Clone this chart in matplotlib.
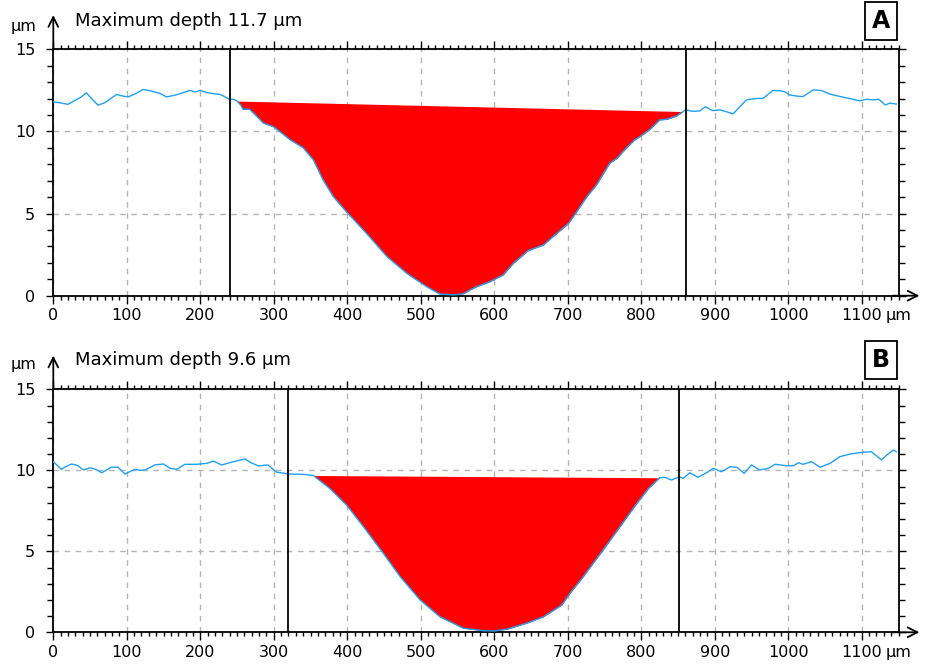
import numpy as np
import matplotlib
matplotlib.use("Agg")
import matplotlib.pyplot as plt
from matplotlib.ticker import MultipleLocator

# Surface profile A (x in µm, height in µm)
profile_a_x = [0, 8, 20, 30, 38, 45, 52, 61, 70, 78, 86, 95, 102, 112, 122, 130, 138, 146, 154,
               165, 176, 186, 193, 200, 210, 218, 227, 234, 240, 245, 250, 255, 258, 267, 275,
               286, 299, 308, 322, 340, 354, 367, 381, 399, 426, 454, 481, 508, 526, 545, 558,
               567, 576, 594, 612, 626, 646, 667, 680, 701, 712, 726, 739, 757, 767, 780, 791,
               798, 812, 825, 835, 848, 859, 862, 870, 880, 887, 897, 907, 916, 925, 934, 943,
               955, 966, 979, 988, 995, 1002, 1012, 1020, 1034, 1045, 1057, 1071, 1084, 1097,
               1107, 1115, 1123, 1132, 1138, 1147]
profile_a_y = [11.8, 11.75, 11.65, 11.9, 12.1, 12.35, 12.0, 11.6, 11.75, 12.0, 12.25, 12.15, 12.1,
               12.3, 12.55, 12.5, 12.4, 12.3, 12.1, 12.2, 12.35, 12.5, 12.4, 12.5, 12.35, 12.3,
               12.25, 12.1, 11.95, 11.96, 11.85, 11.6, 11.35, 11.35, 11.0, 10.5, 10.3, 10.0, 9.5,
               9.0, 8.26, 7.05, 6.03, 5.1, 3.8, 2.38, 1.36, 0.55, 0.1, 0.05, 0.12, 0.35, 0.55,
               0.85, 1.26, 1.97, 2.74, 3.09, 3.6, 4.4, 5.1, 6.03, 6.74, 8.06, 8.37, 9.0, 9.48,
               9.68, 10.13, 10.7, 10.74, 10.94, 11.27, 11.31, 11.22, 11.25, 11.5, 11.27, 11.31,
               11.2, 11.07, 11.5, 11.92, 12.0, 12.02, 12.49, 12.48, 12.42, 12.22, 12.15, 12.12,
               12.53, 12.49, 12.27, 12.12, 12.0, 11.86, 11.96, 11.92, 11.96, 11.61, 11.72, 11.67]

# Surface profile B
profile_b_x = [0, 11, 18, 25, 33, 41, 50, 58, 66, 79, 88, 97.5, 111, 118, 125, 138, 150, 159, 168,
               179, 195, 209, 218, 229, 245, 261, 268, 279, 292, 304, 322, 340, 354, 356, 376,
               399, 422, 449, 472, 499, 526, 558, 585, 600, 617, 644, 667, 692, 703, 721, 748,
               771, 794, 810, 825, 832, 841, 852, 857, 866, 877, 889, 898, 909, 921, 930, 940,
               950, 961, 973, 982, 998, 1007, 1014, 1020, 1032, 1043, 1057, 1070, 1084, 1097,
               1113, 1127, 1134, 1143, 1147]
profile_b_y = [10.53, 10.06, 10.25, 10.39, 10.3, 10.02, 10.16, 10.05, 9.85, 10.19, 10.19, 9.77,
               10.06, 10.0, 10.02, 10.33, 10.39, 10.12, 10.06, 10.37, 10.37, 10.43, 10.57, 10.33,
               10.53, 10.7, 10.49, 10.27, 10.33, 9.88, 9.77, 9.75, 9.68, 9.6, 8.89, 7.86, 6.52,
               4.88, 3.43, 2.0, 0.96, 0.25, 0.1, 0.08, 0.19, 0.56, 0.96, 1.69, 2.41, 3.43, 5.08,
               6.52, 7.96, 8.89, 9.54, 9.57, 9.4, 9.6, 9.5, 9.85, 9.57, 9.85, 10.12, 9.91, 10.22,
               10.19, 9.81, 10.33, 10.02, 10.12, 10.37, 10.28, 10.28, 10.47, 10.37, 10.53, 10.19,
               10.43, 10.84, 11.0, 11.09, 11.15, 10.64, 10.94, 11.25, 11.15]

# Groove limits (start/end of the filled region) and cursor positions
groove_a = (250, 857)
groove_b = (354, 825)
cursors_a = (240, 861)
cursors_b = (320, 851)
max_depth_a = 11.7
max_depth_b = 9.6
panel_labels = ["A", "B"]

x_ticks = [0, 100, 200, 300, 400, 500, 600, 700, 800, 900, 1000, 1100]
y_ticks = [0, 5, 10, 15]

W, H = 925, 664
fig = plt.figure(figsize=(W / 100, H / 100), dpi=100)
plt.rcParams["font.family"] = ["DejaVu Sans"]

LINE_BLUE = "#1ea0f5"
RED = "#ff0000"
TICK_FS = 11.5


def fx(px):
    return px / W


def fy(py):
    return 1 - py / H


def draw_panel(ax, xs, ys, groove, cursors):
    xs = np.asarray(xs, float)
    ys = np.asarray(ys, float)
    x0, x1 = groove
    y0 = np.interp(x0, xs, ys)
    y1 = np.interp(x1, xs, ys)
    inner = (xs > x0) & (xs < x1)
    gx = np.concatenate([[x0], xs[inner], [x1]])
    gy = np.concatenate([[y0], ys[inner], [y1]])
    chord = y0 + (gx - x0) * (y1 - y0) / (x1 - x0)
    ax.fill_between(gx, gy, chord, color=RED, lw=0, zorder=2)
    ax.plot(xs, ys, color=LINE_BLUE, lw=1.0, zorder=3)
    for c in cursors:
        ax.axvline(c, color="black", lw=1.3, zorder=4)

    ax.set_xlim(0, 1150)
    ax.set_ylim(0, 15)
    ax.xaxis.set_major_locator(plt.FixedLocator(x_ticks))
    ax.xaxis.set_minor_locator(MultipleLocator(10))
    ax.yaxis.set_major_locator(plt.FixedLocator(y_ticks))
    ax.yaxis.set_minor_locator(MultipleLocator(1))
    ax.set_xticklabels([str(t) for t in x_ticks], fontsize=TICK_FS)
    ax.set_yticklabels([str(t) for t in y_ticks], fontsize=TICK_FS)
    ax.grid(True, which="major", color="#b4b4b4", ls=(0, (4, 4)), lw=1.0, zorder=1)
    ax.tick_params(axis="x", which="major", direction="out", length=6, width=1,
                   top=True, bottom=True, pad=3)
    ax.tick_params(axis="x", which="minor", direction="out", length=3, width=1,
                   top=True, bottom=True)
    ax.tick_params(axis="y", which="major", direction="out", length=5, width=1,
                   left=True, right=True, pad=8)
    ax.tick_params(axis="y", which="minor", direction="out", length=4, width=1,
                   left=True, right=True)
    for s in ax.spines.values():
        s.set_linewidth(1.3)
        s.set_color("black")

    # axis direction arrows
    ax.annotate("", xy=(1.028, 0), xytext=(0.99, 0), xycoords="axes fraction",
                arrowprops=dict(arrowstyle="->,head_length=0.7,head_width=0.35",
                                lw=1.3, color="black"), annotation_clip=False)
    ax.annotate("", xy=(0, 1.15), xytext=(0, 0.99), xycoords="axes fraction",
                arrowprops=dict(arrowstyle="->,head_length=0.7,head_width=0.35",
                                lw=1.3, color="black"), annotation_clip=False)


left = fx(53.3)
width = fx(898.5) - left

ax_a = fig.add_axes([left, fy(295.7), width, fy(49.3) - fy(295.7)])
ax_b = fig.add_axes([left, fy(632.3), width, fy(389.3) - fy(632.3)])

draw_panel(ax_a, profile_a_x, profile_a_y, groove_a, cursors_a)
draw_panel(ax_b, profile_b_x, profile_b_y, groove_b, cursors_b)

for top_px, depth, lab in [(0, max_depth_a, panel_labels[0]),
                           (339, max_depth_b, panel_labels[1])]:
    fig.text(fx(24), fy(top_px + 26), "μm", fontsize=TICK_FS, ha="center", va="center")
    fig.text(fx(75), fy(top_px + 21), f"Maximum depth {depth} μm", fontsize=13,
             ha="left", va="center")
    fig.text(fx(881), fy(top_px + 21), lab, fontsize=17, fontweight="bold",
             ha="center", va="center",
             bbox=dict(boxstyle="square,pad=0.3", fc="white", ec="black", lw=1.3))

# unit after the last x tick label
for base_px in (295.7, 632.3):
    fig.text(fx(886), fy(base_px + 20), "μm", fontsize=TICK_FS, ha="left", va="center")

fig.savefig("out.png", dpi=100)
